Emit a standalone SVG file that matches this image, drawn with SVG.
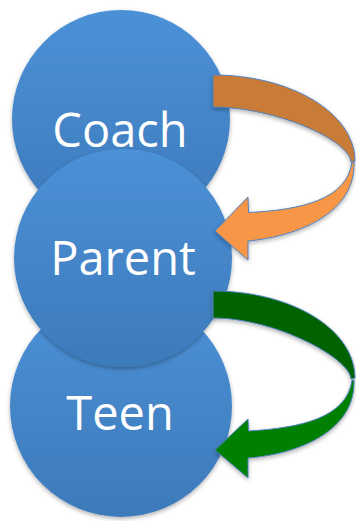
<svg xmlns="http://www.w3.org/2000/svg" width="356" height="521" viewBox="0 0 356 521">
  <defs>
    <linearGradient id="ball" x1="0" y1="0" x2="0" y2="1">
      <stop offset="0" stop-color="#4b91d7"/>
      <stop offset="1" stop-color="#3d7aba"/>
    </linearGradient>
    <filter id="shadow" x="-20%" y="-20%" width="140%" height="140%">
      <feDropShadow dx="0" dy="2" stdDeviation="2" flood-color="#000" flood-opacity="0.3"/>
    </filter>
  </defs>
  <style>
    .ball { fill: url(#ball); filter: url(#shadow); }
    .label { fill: #ffffff; font-family: "Open Sans", "Noto Sans", sans-serif; font-size: 47px; text-anchor: middle; }
    .arrow { stroke: #4f81bd; stroke-width: 1; stroke-linejoin: round; }
    .arrows { filter: url(#shadow); }
  </style>

  <g id="coach">
    <circle class="ball" cx="121" cy="119" r="109"/>
    <text class="label" x="120" y="147">Coach</text>
  </g>
  <g id="teen">
    <circle class="ball" cx="121" cy="406" r="111"/>
    <text class="label" x="120" y="430">Teen</text>
  </g>
  <g id="parent">
    <circle class="ball" cx="123" cy="258" r="109"/>
    <text class="label" x="123" y="275">Parent</text>
  </g>

  <g id="connectors" class="arrows">
    <!-- Coach to Parent: curved ribbon arrow (back fold, then front with head) -->
    <path class="arrow" fill="#c87b37" d="M213,75 C291,75 355,113 355,161 L351,162 C350,140 275,107 213,107 Z"/>
    <path class="arrow" fill="#f79646" d="M354,162 C356,212 300,236 248,241 L248,260 L215,231 L248,197 L248.5,212.5 C300,210 347,200 352,162 Z"/>
    <!-- Parent to Teen: curved ribbon arrow -->
    <path class="arrow" fill="#006300" d="M213,291 C291,291 355,329 355,378 L351,379 C350,358 275,318 213,318 Z"/>
    <path class="arrow" fill="#008000" d="M354,380 C356,430 300,454 248,458 L248,478 L215,450 L248,419 L248.5,431 C300,428 347,418 352,380 Z"/>
  </g>
</svg>
